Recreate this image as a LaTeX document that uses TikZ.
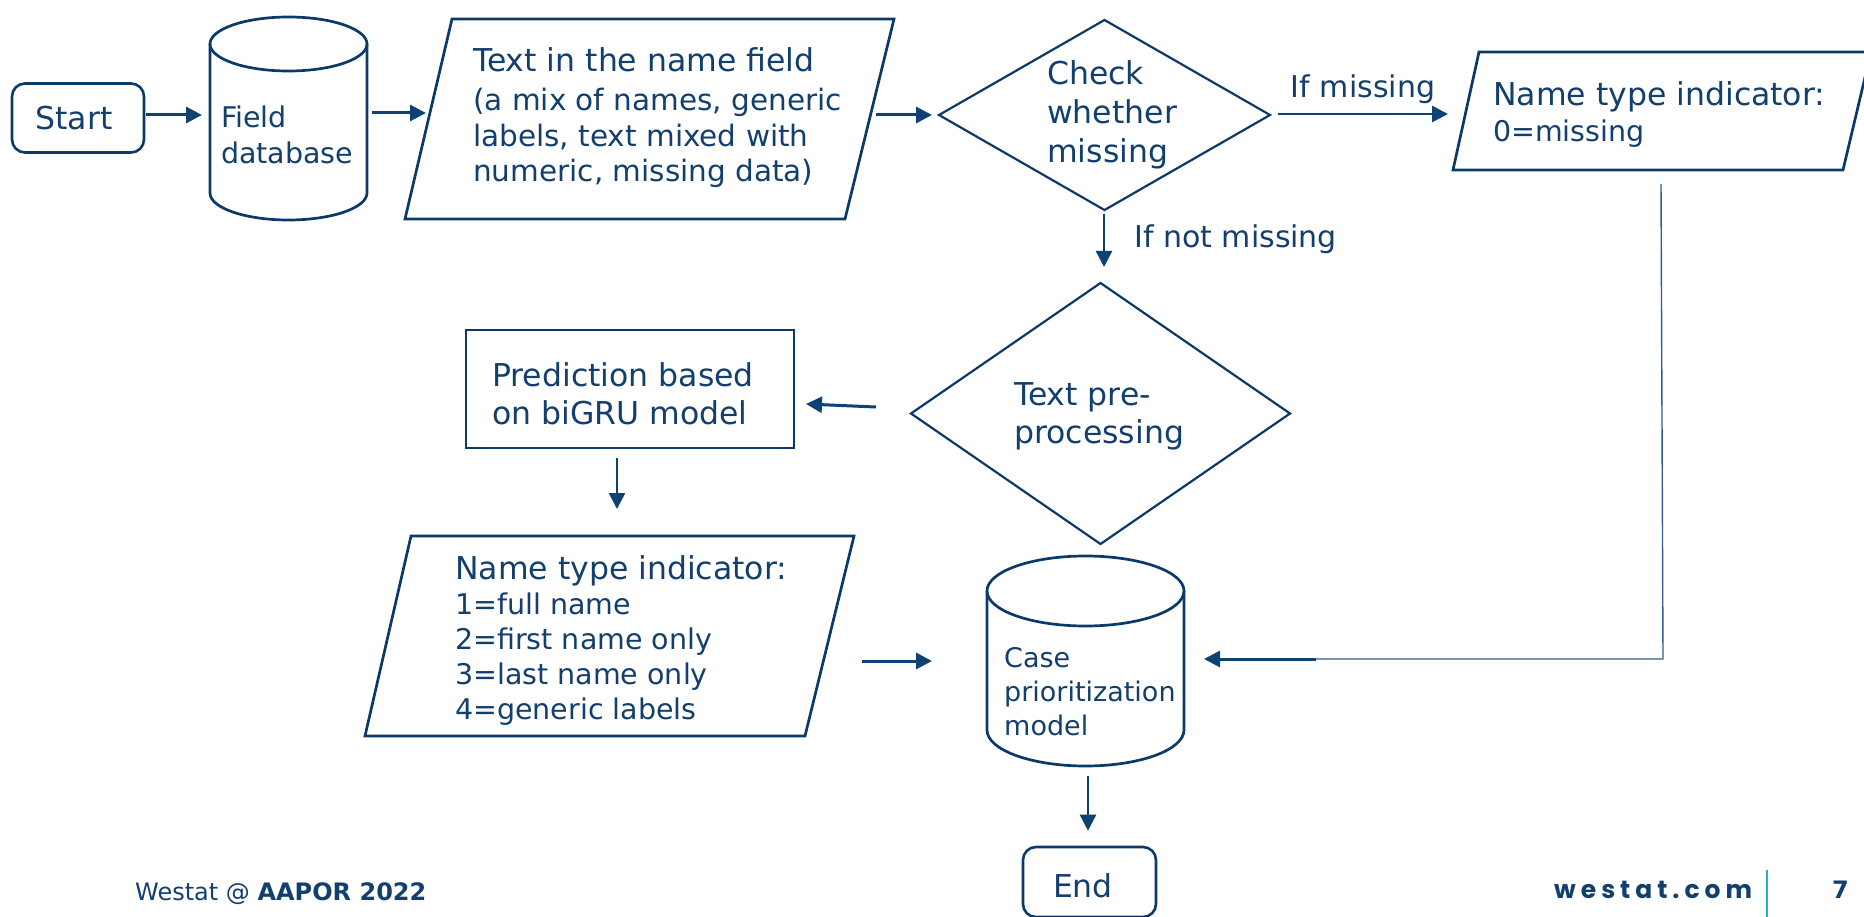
\documentclass[tikz,border=0pt]{standalone}
\usepackage{fontspec}
\setmainfont{DejaVu Sans}
\newfontfamily\popfont[LetterSpace=20]{Poppins}
\usetikzlibrary{arrows.meta,calc}
\definecolor{navy}{HTML}{0B3A6A}
\definecolor{tc}{HTML}{133F6E}
\definecolor{arrc}{HTML}{0E4274}
\definecolor{thinc}{HTML}{2F5F8F}
\definecolor{sky}{HTML}{29ABE2}
\newcommand\fsH{\fontsize{31.5}{38}\selectfont}
\newcommand\fsM{\fontsize{29.5}{36}\selectfont}
\newcommand\fsS{\fontsize{28.5}{34}\selectfont}
\newcommand\fsC{\fontsize{27}{33}\selectfont}
\tikzset{
  shp/.style={draw=navy, line width=2.7pt, line join=miter},
  dia/.style={draw=navy, line width=2.2pt, line join=miter},
  ghost/.style={inner sep=0pt, outer sep=0pt},
  rbox/.style={draw=navy, line width=2.6pt, rounded corners=13pt, inner sep=0pt, text=tc, font=\fontsize{31}{36}\selectfont},
  txt/.style={text=tc, inner sep=0pt, anchor=base west},
  arrthick/.style={draw=arrc, line width=3pt, -{Triangle[length=16pt,width=16pt]}},
  arrthin/.style={draw=arrc, line width=2.5pt, -{Triangle[length=16pt,width=16pt]}},
  conn/.style={draw=thinc, line width=1.4pt},
}
\begin{document}
\begin{tikzpicture}[x=1pt,y=-1pt]
\useasboundingbox (0,0) rectangle (1864,917);
\clip (0,0) rectangle (1864,917);
\fill[white] (0,0) rectangle (1864,917);

% Start
\node[rbox, minimum width=132pt, minimum height=69pt] (start) at (78,118) {};
\node[txt, font=\fontsize{31.5}{36}\selectfont, anchor=base] (startt) at (74,130) {Start};

% Field database
\node[ghost, minimum width=157pt, minimum height=203pt] (db) at (288.5,118.5) {};
\draw[shp] (210,44) -- (210,193) arc[start angle=180,end angle=0,x radius=78.5,y radius=27] -- (367,44);
\draw[shp] (288.5,44) ellipse[x radius=78.5,y radius=27];
\node[txt, font=\fsS] (db1) at (221,128) {Field};
\node[txt, font=\fsS] (db2) at (221,164) {database};

% Text in name field
\draw[shp] (452,19) -- (894,19) -- (845,219) -- (405,219) -- cycle;
\node[ghost, minimum width=489pt, minimum height=200pt] (p1) at (649.5,119) {};
\node[txt, font=\fsH] (p1a) at (473,72) {Text in the name field};
\node[txt, font=\fsM] (p1b) at (473,111) {(a mix of names, generic};
\node[txt, font=\fsM] (p1c) at (473,147) {labels, text mixed with};
\node[txt, font=\fsM] (p1d) at (473,182) {numeric, missing data)};

% Check whether missing
\draw[dia] (939,115) -- (1104.5,20) -- (1270,115) -- (1104.5,210) -- cycle;
\node[ghost, minimum width=331pt, minimum height=190pt] (d1) at (1104.5,115) {};
\node[txt, font=\fsH] (d1a) at (1047,85) {Check};
\node[txt, font=\fsH] (d1b) at (1047,124) {whether};
\node[txt, font=\fsH] (d1c) at (1047,163) {missing};

% Name type indicator 0
\draw[shp] (1479,52) -- (1871,52) -- (1843,170) -- (1453,170) -- cycle;
\node[ghost, minimum width=413pt, minimum height=118pt] (p2) at (1659.5,111) {};
\node[txt, font=\fsH] (p2a) at (1493,106) {Name type indicator:};
\node[txt, font=\fsS] (p2b) at (1493,142) {0=missing};

% Text pre-processing
\draw[dia] (911,413.5) -- (1100.5,283) -- (1290,413.5) -- (1100.5,544) -- cycle;
\node[ghost, minimum width=379pt, minimum height=261pt] (d2) at (1100.5,413.5) {};
\node[txt, font=\fsH] (d2a) at (1014,406) {Text pre-};
\node[txt, font=\fsH] (d2b) at (1014,443) {processing};

% Prediction
\draw[shp] (466,330) rectangle (794,448);
\node[ghost, minimum width=328pt, minimum height=118pt] (pred) at (630,389) {};
\node[txt, font=\fsH] (pra) at (492,386) {Prediction based};
\node[txt, font=\fsH] (prb) at (492,424) {on biGRU model};

% Name type indicator 1-4
\draw[shp] (411,536) -- (854,536) -- (805,736) -- (365,736) -- cycle;
\node[ghost, minimum width=489pt, minimum height=200pt] (p3) at (609.5,636) {};
\node[txt, font=\fsH] (p3a) at (455,579) {Name type indicator:};
\node[txt, font=\fsS] (p3b) at (455,614) {1=full name};
\node[txt, font=\fsS] (p3c) at (455,649) {2=first name only};
\node[txt, font=\fsS] (p3d) at (455,684) {3=last name only};
\node[txt, font=\fsS] (p3e) at (455,719) {4=generic labels};

% Case prioritization model
\node[ghost, minimum width=197pt, minimum height=210pt] (case) at (1085.5,661) {};
\draw[shp] (987,591) -- (987,730) arc[start angle=180,end angle=0,x radius=98.5,y radius=36] -- (1184,591);
\draw[shp] (1085.5,591) ellipse[x radius=98.5,y radius=35];
\node[txt, font=\fsC] (ca) at (1004,667) {Case};
\node[txt, font=\fsC] (cb) at (1004,701) {prioritization};
\node[txt, font=\fsC] (cc) at (1004,735) {model};

% End
\node[rbox, minimum width=133pt, minimum height=70pt] (endn) at (1089.5,882) {};
\node[txt, font=\fontsize{31.5}{36}\selectfont, anchor=base] (endt) at (1083,897) {End};

% Connectors
\draw[arrthick] ($(start.east)+(1,-3)$) -- ($(db.west)+(-8,-3.5)$);
\draw[arrthick] ($(db.east)+(5,-5.5)$) -- ($(p1.west)+(21,-6)$);
\draw[arrthick] ($(p1.east)+(-18,-4)$) -- ($(d1.west)+(-7,0)$);
\draw[arrthick, line width=2.7pt] ($(d1.east)+(8,-1)$) -- node[above=9pt, text=tc, font=\fontsize{30}{36}\selectfont, inner sep=0pt] (lm) {If missing} ($(p2.west)+(-5,3)$);
\draw[arrthin] ($(d1.south)+(-0.5,4)$) -- ($(d2.north)+(3.5,-16)$);
\node[txt, font=\fontsize{30}{36}\selectfont] (lnm) at (1134,248) {If not missing};
\draw[arrthick] ($(d2.west)+(-35,-6.5)$) -- ($(pred.east)+(12,15)$);
\draw[arrthin] ($(pred.south)+(-13,10)$) -- ($(p3.north)+(7.5,-27)$);
\draw[arrthick] ($(p3.east)+(8,25)$) -- ($(case.west)+(-55,0)$);
\coordinate (turn) at ($(case.east)+(479,-2)$);
\coordinate (mid) at ($(case.east)+(132,-2)$);
\draw[conn] ($(p2.south)+(1.5,14)$) -- (turn) -- (mid);
\draw[arrthick] (mid) -- ($(case.east)+(20,-2)$);
\draw[arrthin] ($(case.south)+(2.5,10)$) -- ($(endn.north)+(-1.5,-15)$);

% Footer
\node[txt, font=\fontsize{24}{28}\selectfont] (foot) at (135,900) {Westat @ \textbf{AAPOR 2022}};
\node[txt, font={\popfont\bfseries\fontsize{25}{30}\selectfont}] (web) at (1554,898) {westat.com};
\coordinate (sepT) at (1767,870);
\coordinate (sepB) at (1767,917);
\draw[sky, line width=2pt] (sepT) -- (sepB);
\node[txt, font=\bfseries\fontsize{24}{28}\selectfont] (pg) at (1832,898) {7};
\end{tikzpicture}
\end{document}
